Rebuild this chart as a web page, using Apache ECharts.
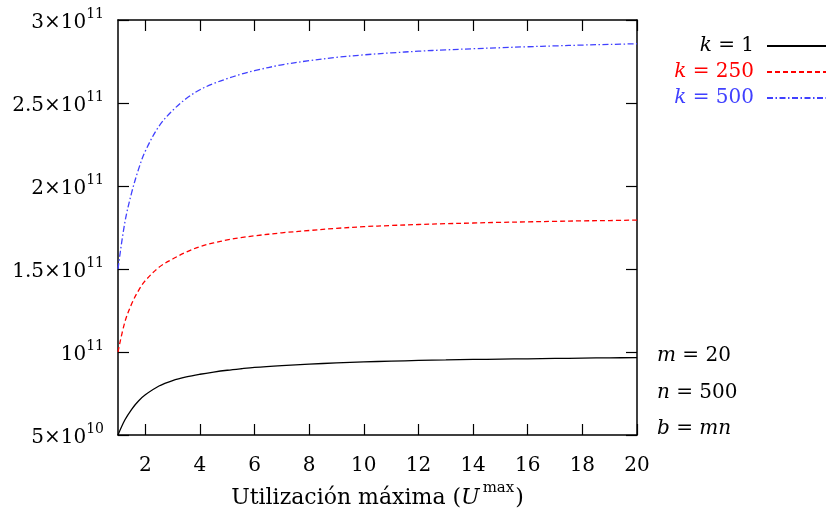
<!DOCTYPE html>
<html>
<head>
<meta charset="utf-8">
<script src="https://cdn.jsdelivr.net/npm/echarts@6/dist/echarts.min.js"></script>
<style>
  html, body { margin: 0; padding: 0; background: #fff; }
  #chart { width: 827px; height: 514px; }
</style>
</head>
<body>
<div id="chart"></div>
<script>
// Maximum utilisation values (x) at which each curve is sampled
const uValues = [1, 1.25, 1.5, 1.75, 2, 2.5, 3, 3.5, 4, 4.5, 5, 5.5, 6, 7, 8, 9, 10,
                 11, 12, 13, 14, 15, 16, 17, 18, 19, 20];

// k = 1
const seriesK1 = [5.0e10, 5.9e10, 6.55e10, 7.05e10, 7.42e10, 7.95e10, 8.28e10, 8.5e10, 8.66e10,
                  8.79e10, 8.9e10, 8.99e10, 9.07e10, 9.18e10, 9.27e10, 9.34e10, 9.40e10,
                  9.45e10, 9.49e10, 9.52e10, 9.55e10, 9.57e10, 9.59e10, 9.61e10, 9.63e10,
                  9.65e10, 9.66e10];
// k = 250
const seriesK250 = [1.0e11, 1.18e11, 1.29e11, 1.37e11, 1.43e11, 1.51e11, 1.56e11, 1.602e11, 1.635e11,
                    1.657e11, 1.675e11, 1.689e11, 1.70e11, 1.718e11, 1.732e11, 1.745e11, 1.755e11,
                    1.762e11, 1.768e11, 1.773e11, 1.777e11, 1.781e11, 1.784e11, 1.787e11, 1.79e11,
                    1.792e11, 1.795e11];
// k = 500
const seriesK500 = [1.5e11, 1.78e11, 1.96e11, 2.10e11, 2.21e11, 2.36e11, 2.455e11, 2.527e11, 2.58e11,
                    2.617e11, 2.647e11, 2.673e11, 2.695e11, 2.73e11, 2.755e11, 2.775e11, 2.79e11,
                    2.802e11, 2.812e11, 2.82e11, 2.827e11, 2.833e11, 2.839e11, 2.844e11, 2.849e11,
                    2.853e11, 2.857e11];

const seriesNames = ['k = 1', 'k = 250', 'k = 500'];
const seriesColors = ['#000000', '#ff0000', '#4040ff'];

const xTickValues = [2, 4, 6, 8, 10, 12, 14, 16, 18, 20];
const yMin = 5e10, yMax = 3e11, yStep = 5e10;
const yTickLabels = [
  '{n|5×10}{s|10}', '{n|10}{s|11}', '{n|1.5×10}{s|11}',
  '{n|2×10}{s|11}', '{n|2.5×10}{s|11}', '{n|3×10}{s|11}'
];
const xAxisTitle = '{n|Utilización máxima (}{u|U}{s|max}{n|)}';
const parameterNotes = ['{i|m}{n| = 20}', '{i|n}{n| = 500}', '{i|b}{n| = }{i|mn}'];

const FONT = 'DejaVu Serif';
const FS = 20;

const richBase = {
  n: { fontFamily: FONT, fontSize: FS, lineHeight: 26, verticalAlign: 'bottom' },
  i: { fontFamily: FONT, fontSize: FS, fontStyle: 'italic', lineHeight: 26, verticalAlign: 'bottom' },
  s: { fontFamily: FONT, fontSize: 14, lineHeight: 12, verticalAlign: 'top' }
};
const richTitle = {
  n: { fontFamily: FONT, fontSize: 22, lineHeight: 28, verticalAlign: 'bottom' },
  u: { fontFamily: FONT, fontSize: 22, fontStyle: 'italic', lineHeight: 28, verticalAlign: 'bottom' },
  s: { fontFamily: FONT, fontSize: 15, lineHeight: 13, verticalAlign: 'top', padding: [0, 1, 0, 3] }
};

function pairs(ys) { return uValues.map((u, i) => [u, ys[i]]); }

const chart = echarts.init(document.getElementById('chart'));

const axisLineStyle = { color: '#000', width: 1.5 };
const tickStyle = { color: '#000', width: 1.2 };

chart.setOption({
  animation: false,
  backgroundColor: '#fff',
  grid: { left: 118, right: 190, top: 20, bottom: 77, containLabel: false },
  xAxis: [
    {
      type: 'value', min: 1, max: 20, position: 'bottom',
      axisLine: { show: true, onZero: false, lineStyle: axisLineStyle },
      axisTick: { show: true, inside: true, length: 11, customValues: xTickValues, lineStyle: tickStyle },
      axisLabel: { customValues: xTickValues, margin: 21, fontFamily: FONT, fontSize: FS, color: '#000' },
      splitLine: { show: false },
      name: xAxisTitle, nameLocation: 'middle', nameGap: 46,
      nameTextStyle: { color: '#000', fontFamily: FONT, fontSize: 22, rich: richTitle }
    },
    {
      type: 'value', min: 1, max: 20, position: 'top',
      axisLine: { show: true, onZero: false, lineStyle: axisLineStyle },
      axisTick: { show: true, inside: true, length: 11, customValues: xTickValues, lineStyle: tickStyle },
      axisLabel: { show: false },
      splitLine: { show: false }
    }
  ],
  yAxis: [
    {
      type: 'value', min: yMin, max: yMax, interval: yStep, position: 'left',
      axisLine: { show: true, onZero: false, lineStyle: axisLineStyle },
      axisTick: { show: true, inside: true, length: 11, lineStyle: tickStyle },
      axisLabel: {
        margin: 14, color: '#000', fontFamily: FONT, fontSize: FS, rich: richBase,
        formatter: v => yTickLabels[Math.round((v - yMin) / yStep)]
      },
      splitLine: { show: false }
    },
    {
      type: 'value', min: yMin, max: yMax, interval: yStep, position: 'right',
      axisLine: { show: true, onZero: false, lineStyle: axisLineStyle },
      axisTick: { show: true, inside: true, length: 11, lineStyle: tickStyle },
      axisLabel: { show: false },
      splitLine: { show: false }
    }
  ],
  legend: {
    orient: 'vertical', right: 0, top: 36, align: 'right', padding: 0,
    itemWidth: 59, itemHeight: 20, itemGap: 6,
    selectedMode: false,
    itemStyle: { opacity: 0 },
    textStyle: {
      fontFamily: FONT, fontSize: FS, padding: [0, 8, 0, 0],
      rich: {
        i: { fontFamily: FONT, fontSize: FS, fontStyle: 'italic', lineHeight: 20 },
        n: { fontFamily: FONT, fontSize: FS, lineHeight: 20 }
      }
    },
    formatter: name => '{i|' + name.charAt(0) + '}{n|' + name.slice(1) + '}',
    data: seriesNames.map((name, i) => ({ name, textStyle: { color: seriesColors[i] } }))
  },
  graphic: parameterNotes.map((t, i) => ({
    type: 'text', left: 657, top: 346 + i * 36.5,
    style: {
      text: t, fill: '#000',
      rich: {
        i: { fontFamily: FONT, fontSize: FS, fontStyle: 'italic', lineHeight: 26 },
        n: { fontFamily: FONT, fontSize: FS, lineHeight: 26 }
      }
    }
  })),
  series: [
    {
      name: seriesNames[0], type: 'line', data: pairs(seriesK1),
      symbol: 'none', smooth: 0.35,
      lineStyle: { color: seriesColors[0], width: 1.3, type: 'solid' },
      itemStyle: { color: seriesColors[0] }
    },
    {
      name: seriesNames[1], type: 'line', data: pairs(seriesK250),
      symbol: 'none', smooth: 0.35,
      lineStyle: { color: seriesColors[1], width: 1.3, type: [5, 3] },
      itemStyle: { color: seriesColors[1] }
    },
    {
      name: seriesNames[2], type: 'line', data: pairs(seriesK500),
      symbol: 'none', smooth: 0.35,
      lineStyle: { color: seriesColors[2], width: 1.3, type: [6, 2.5, 1.5, 2.5] },
      itemStyle: { color: seriesColors[2] }
    }
  ]
});
</script>
</body>
</html>
